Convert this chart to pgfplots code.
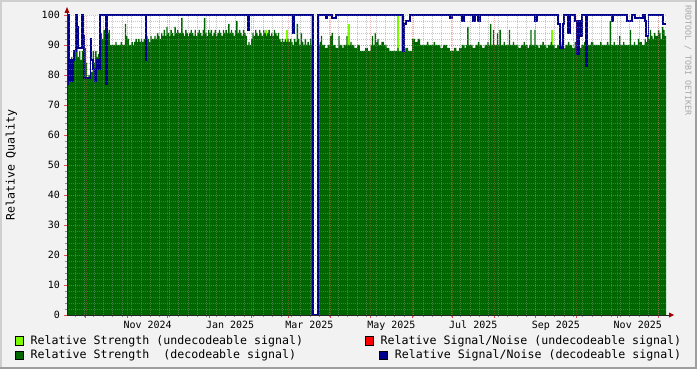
\documentclass[border=0pt]{standalone}
\usepackage{fontspec}
\usepackage{pgfplots}
\pgfplotsset{compat=1.18}
\setmainfont{DejaVu Sans Mono}
\newfontfamily\mono{DejaVu Sans Mono}
\definecolor{back}{HTML}{F2F2F2}
\definecolor{shadea}{HTML}{CFCFCF}
\definecolor{shadeb}{HTML}{9E9E9E}
\definecolor{ltgreen}{HTML}{7CFC00}
\definecolor{dkgreen}{HTML}{006600}
\definecolor{snrred}{HTML}{FF0000}
\definecolor{snrblue}{HTML}{00008B}
\definecolor{gridc}{HTML}{8F8F8F}
\definecolor{mgridc}{HTML}{DE5050}
\definecolor{arrowc}{HTML}{A00000}
\definecolor{wm}{HTML}{A8A8A8}
\begin{document}
\begin{tikzpicture}[x=1bp,y=1bp]
\fill[back] (0,0) rectangle (697,369);
\fill[shadea] (0,0) rectangle (2,369);
\fill[shadea] (0,367) rectangle (697,369);
\fill[shadeb] (695,0) rectangle (697,369);
\fill[shadeb] (0,0) rectangle (697,2);
\begin{axis}[
  at={(67bp,54bp)}, anchor=south west, scale only axis,
  width=599bp, height=300bp,
  xmin=0, xmax=446, ymin=0, ymax=100,
  axis x line=bottom, axis y line=left,
  x axis line style={-}, y axis line style={-},
  axis line style={draw=black!85, line width=0.9bp},
  axis on top, clip=false,
  axis background/.style={fill=white},
  xtick={14,45,75,106,137,165,196,226,257,287,318,349,379,410,440},
  xticklabels={},
  minor xtick={6,13,...,440},
  ytick={0,10,...,100},
  minor ytick={2,4,...,98},
  xmajorgrids, xminorgrids, ymajorgrids, yminorgrids,
  major grid style={draw=mgridc, opacity=0.4, dash pattern=on 1bp off 1bp, line width=0.6bp},
  minor grid style={draw=gridc, opacity=0.5, dash pattern=on 1bp off 1bp, line width=0.6bp},
  tick align=outside, major tick length=3bp, minor tick length=2bp,
  major tick style={draw=mgridc, line width=0.8bp},
  minor tick style={draw=gridc, line width=0.8bp},
  extra x ticks={60,121.5,180.5,241.5,302.5,364,425},
  extra x tick labels={Nov 2024,Jan 2025,Mar 2025,May 2025,Jul 2025,Sep 2025,Nov 2025},
  extra x tick style={grid=none, major tick length=0pt},
  /pgf/number format/assume math mode=true,
  tick label style={font=\mono\fontsize{10bp}{12bp}\selectfont, inner sep=0pt},
  xticklabel style={anchor=north, yshift=-6bp},
  yticklabel style={anchor=east, xshift=-4bp},
]
% Relative Strength (undecodeable signal)
\addplot[ycomb, draw=ltgreen, line width=1.4bp] coordinates {
(4.5,84)(148.2,95)(163.8,95)(182.5,100)(210,97)(246.5,100)(249.5,100)(361.2,95)};
% Relative Strength (decodeable signal)
\addplot[const plot, fill=dkgreen, draw=none] coordinates {
(0,77)(1,80)(2,84)(3,86)(4,84)(5,88)(6,91)(7,90)(8,86)(9,88)(10,85)(11,88)(12,90)(13,89)(14,84)(15,79)(16,80)(17,79)(18,81)(19,88)(20,84)(21,88)(22,86)(23,87)(24,88)(25,94)(26,92)(27,95)(30,94)(31,95)(32,90)(36,91)(37,90)(40,91)(41,90)(43,97)(44,93)(45,92)(46,90)(48,91)(49,90)(50,91)(51,92)(52,91)(53,92)(54,91)(55,92)(56,91)(57,92)(59,93)(60,92)(61,91)(62,93)(63,92)(65,93)(66,92)(67,94)(68,93)(69,92)(70,94)(71,93)(72,95)(73,93)(74,96)(75,94)(76,93)(77,95)(78,94)(79,93)(80,96)(81,94)(82,95)(83,94)(85,99)(86,94)(87,93)(88,95)(89,94)(90,93)(91,94)(92,95)(93,94)(94,93)(95,95)(96,93)(97,94)(98,95)(99,94)(100,93)(101,95)(102,99)(103,94)(104,93)(105,95)(106,94)(107,95)(108,93)(109,94)(110,95)(111,93)(112,94)(113,95)(114,94)(115,93)(116,95)(117,94)(118,95)(119,94)(120,97)(121,94)(122,95)(123,94)(124,93)(125,95)(126,98)(127,94)(128,95)(129,94)(130,93)(131,95)(132,94)(133,93)(134,90)(135,91)(136,90)(137,92)(138,94)(139,93)(140,95)(141,94)(142,93)(143,95)(144,94)(145,93)(146,95)(147,94)(148,93)(149,94)(150,95)(151,93)(152,94)(153,93)(154,95)(155,94)(156,93)(157,94)(158,92)(159,91)(160,92)(161,91)(162,92)(163,91)(164,92)(165,91)(166,92)(167,91)(168,90)(169,92)(170,91)(171,97)(172,92)(173,90)(174,94)(175,91)(176,90)(177,92)(178,90)(179,91)(180,90)(181,92)(182,90)(183.2,90)
} \closedcycle;
\addplot[const plot, fill=dkgreen, draw=none] coordinates {
(186.9,90)(188,91)(189,93)(190,90)(192,89)(194,90)(196,93)(197,94)(198,90)(200,89)(202,93)(203,90)(205,89)(206,90)(208,93)(209,90)(211,91)(212,90)(214,89)(216,90)(218,88)(222,89)(224,88)(226,90)(227,93)(228,90)(229,94)(230,91)(231,92)(232,90)(234,91)(236,90)(238,89)(240,88)(246,89)(247,88)(252,89)(254,88)(257,92)(259,91)(261,92)(263,90)(268,91)(269,90)(273,91)(274,90)(278,89)(280,90)(283,89)(285,88)(288,89)(290,88)(292,89)(294,90)(296,89)(297,90)(298,96)(299,90)(302,89)(304,90)(306,91)(307,90)(309,89)(311,90)(313,91)(314,90)(315,97)(316,90)(317,95)(318,90)(320,94)(321,90)(322,95)(323,90)(325,91)(326,90)(329,95)(330,90)(332,91)(333,90)(336,89)(338,90)(340,91)(341,90)(343,89)(344,90)(345,95)(346,90)(348,95)(349,90)(351,89)(352,90)(354,91)(355,90)(357,89)(358,90)(360,91)(361,90)(363,89)(365,90)(367,91)(368,90)(370,89)(371,90)(373,91)(374,90)(376,89)(378,91)(379,90)(381,89)(383,90)(385,91)(386,90)(390,91)(392,90)(397,91)(398,90)(402,91)(403,90)(404,98)(405,90)(407,91)(408,90)(411,93)(412,90)(414,91)(415,90)(419,95)(420,90)(422,91)(423,90)(425,92)(426,91)(428,90)(430,92)(431,91)(432,93)(433,92)(434,95)(435,93)(436,92)(437,94)(438,93)(440,95)(441,94)(442,92)(443,96)(444,95)(445,93)(446,93)
} \closedcycle;
% Relative Signal/Noise (decodeable signal)
\addplot[const plot, draw=snrblue, line width=1.7bp] coordinates {
(0,77)(0.7,100)(1.9,78)(2.6,85)(3.7,78)(4.5,85)(5.2,88)(6.7,100)(7.8,96)(8.2,89)(11.2,100)(11.9,93)(12.7,79)(17.5,92)(18.2,85)(19.4,82)(20.9,78)(22,85)(23.1,82)(24.6,100)(29,77)(29.8,100)(58.5,85)(59.2,100)(134.4,95)(135.5,100)(167.9,94)(169,100)(182.9,0)(186.9,100)(192.5,99)(193.6,100)(197.3,99)(200.3,100)(250.2,88)(251.3,97)(252.4,98)(255.4,100)(285.2,99)(286.7,100)(294.1,98)(295.6,100)(302.3,98)(303.8,100)(306,98)(307.5,100)(348.5,98)(350,100)(365.6,97)(367.1,89)(369.3,97)(370.1,100)(373,94)(374.5,100)(378.3,98)(379.8,87)(381.2,98)(382,93)(383.5,100)(386.5,83)(387.6,100)(405.8,98)(406.9,100)(417,98)(420.7,100)(423,99)(428.9,100)(430.4,98)(431.1,93)(433,100)(443.8,97)(446,97)
};
\end{axis}
% axis arrows
\draw[black!85, line width=0.9bp] (67,354) -- (67,357);
\fill[arrowc] (64.5,356) -- (69.5,356) -- (67,362) -- cycle;
\draw[black!85, line width=0.9bp] (666,54) -- (669,54);
\fill[arrowc] (669,51.5) -- (669,56.5) -- (674,54) -- cycle;
% y label and watermark
\node[rotate=90, font=\mono\fontsize{11.6bp}{13bp}\selectfont, inner sep=0pt] at (11.5,204) {Relative Quality};
\node[rotate=-90, anchor=west, font=\mono\fontsize{8.3bp}{10bp}\selectfont, text=wm, inner sep=0pt] at (688,364) {RRDTOOL / TOBI OETIKER};
% legend
\begin{scope}[font=\mono\fontsize{11.6bp}{13bp}\selectfont]
\filldraw[fill=ltgreen, draw=black, line width=0.8bp] (15.4,23.6) rectangle (23.6,32.2);
\node[anchor=base west, inner sep=0pt] at (30.5,24.8) {Relative Strength (undecodeable signal)};
\filldraw[fill=dkgreen, draw=black, line width=0.8bp] (15.4,9.4) rectangle (23.6,18);
\node[anchor=base west, inner sep=0pt] at (30.5,10.6) {Relative Strength\ \ (decodeable signal)};
\filldraw[fill=snrred, draw=black, line width=0.8bp] (365.4,23.6) rectangle (373.6,32.2);
\node[anchor=base west, inner sep=0pt] at (380.5,24.8) {Relative Signal/Noise (undecodeable signal)};
\filldraw[fill=snrblue, draw=black, line width=0.8bp] (379.6,9.4) rectangle (387.8,18);
\node[anchor=base west, inner sep=0pt] at (394.7,10.6) {Relative Signal/Noise (decodeable signal)};
\end{scope}
\end{tikzpicture}
\end{document}
